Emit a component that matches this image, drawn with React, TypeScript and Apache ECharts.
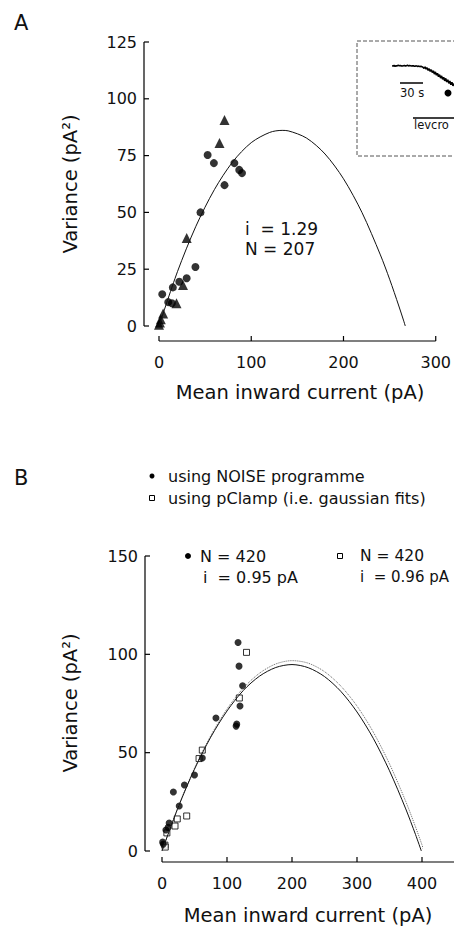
import React, { useEffect, useRef } from "react";
import * as echarts from "echarts";

const FONT = "DejaVu Sans, Liberation Sans, sans-serif";

// ---------- Panel A data ----------
const aCircles: [number, number][] = [
  [3.5, 14], [10, 10.5], [14, 10], [15, 17], [22, 19.5], [30, 21], [39.5, 26],
  [45, 50], [52.7, 75.3], [59.5, 71.7], [71, 62], [81.7, 71.7], [87, 68.7], [90, 67.3],
];
const aTriangles: [number, number][] = [
  [0, 0.5], [1, 1.5], [2, 3], [4.5, 5.5], [19, 10], [26, 18], [30, 38.7], [65.6, 80.5], [71, 90.7],
];
// fitted parabola (i = 1.29, N = 207)
const aCurveX = [0, 20, 40, 60, 80, 100, 120, 133.5, 140, 160, 180, 200, 220, 240, 250, 260, 265, 267];
const aCurveY = [0, 23.9, 43.9, 60.0, 72.3, 80.7, 85.2, 86.1, 85.9, 82.7, 75.7, 64.8, 50.0, 31.3, 20.6, 8.8, 2.6, 0];

// ---------- Panel B data ----------
const bCircles: [number, number][] = [
  [1, 4.5], [2, 3.5], [6, 10.7], [9.5, 12], [11, 14.2], [17.5, 30], [26.5, 22.9], [34.5, 33.6],
  [50, 38.6], [62, 47.3], [83, 67.6], [114, 63.5], [115, 64.5], [118.5, 94], [117, 106],
  [120, 73.7], [124, 84],
];
const bSquares: [number, number][] = [
  [4.5, 3], [5, 2], [7.5, 9.2], [20, 12.7], [23.5, 16.3], [38, 17.8], [57, 47], [62, 51.3],
  [119, 77.8], [130, 101],
];
// NOISE fit (i = 0.95, N = 420)
const bSolidX = [0, 25, 50, 75, 100, 125, 150, 175, 200, 225, 250, 275, 300, 325, 350, 375, 390, 399];
const bSolidY = [0, 22.3, 41.6, 57.9, 71.2, 81.6, 88.9, 93.3, 94.8, 93.2, 88.7, 81.2, 70.7, 57.3, 40.8, 21.4, 8.4, 0];
// pClamp fit (i = 0.96, N = 420)
const bDotX = [0, 25, 50, 75, 100, 125, 150, 175, 200, 225, 250, 275, 300, 325, 350, 375, 390, 400, 403];
const bDotY = [0, 22.5, 42.1, 58.6, 72.2, 82.8, 90.4, 95.1, 96.8, 95.5, 91.2, 83.9, 73.7, 60.5, 44.3, 25.2, 12.3, 3.1, 0.2];

// inset current trace (arbitrary units, sampled every 0.5 s)
const traceY = [
  0.2, 0, 0.3, -0.1, 0.2, 0.1, 0.4, 0.2, 0.3, 0.1, 0, 0.2, 0.3, 0.1, 0.2, 0.4, 0.1, 0.3, 0.2, 0,
  0.2, 0.1, -0.1, 0.1, 0, -0.2, 0, -0.3, -0.1, -0.4, -0.6,
  -1.2, -0.4, -1.6, -0.9, -2.3, -1.4, -2.8, -1.9, -3.4, -2.5, -4.2, -3.1, -4.8, -3.8, -5.6,
  -4.5, -6.3, -5.2, -7.0, -5.9, -7.8, -6.5, -8.4, -7.2, -9.1, -7.9, -9.8, -8.5, -10.4, -9.2,
];

const xTicksA = { min: 0, max: 300, interval: 100 };
const yTicksA = { min: 0, max: 125, interval: 25 };
const xTicksB = { min: 0, max: 400, interval: 100 };
const yTicksB = { min: 0, max: 150, interval: 50 };

type Range = { min: number; max: number; interval: number };

const zip = (xs: number[], ys: number[]) => xs.map((x, i) => [x, ys[i]]);

function axisCommon(labelMargin: number) {
  return {
    axisLine: { show: false, onZero: false },
    axisTick: { show: false },
    axisLabel: { color: "#111", fontSize: 16, fontFamily: FONT, margin: labelMargin },
    splitLine: { show: false },
  };
}

const txt = (x: number, y: number, text: string, fontSize: number, extra: any = {}) => ({
  type: "text",
  x,
  y,
  style: {
    text,
    fontSize,
    fontFamily: FONT,
    fill: "#111",
    textAlign: "left",
    textVerticalAlign: "middle",
    ...extra,
  },
});

// axis lines and inward ticks, placed through the chart's own scales
function axisGraphics(chart: any, xr: Range, yr: Range, xOff: number, yOff: number, xEnd?: number) {
  const px = (v: number) => chart.convertToPixel({ xAxisIndex: 0 }, v) as number;
  const py = (v: number) => chart.convertToPixel({ yAxisIndex: 0 }, v) as number;
  const stroke = { stroke: "#000", lineWidth: 1.2 };
  const yLine = py(yr.min) + xOff;
  const xLine = px(xr.min) - yOff;
  const els: any[] = [];
  const ln = (x1: number, y1: number, x2: number, y2: number) => ({
    type: "line",
    z: 100,
    shape: { x1, y1, x2, y2 },
    style: stroke,
  });
  els.push(ln(px(xr.min), yLine, xEnd !== undefined ? xEnd : px(xr.max), yLine));
  for (let v = xr.min; v <= xr.max + 1e-9; v += xr.interval) {
    els.push(ln(px(v), yLine, px(v), yLine - 5));
  }
  els.push(ln(xLine, py(yr.min), xLine, py(yr.max)));
  for (let v = yr.min; v <= yr.max + 1e-9; v += yr.interval) {
    els.push(ln(xLine, py(v), xLine + 5, py(v)));
  }
  return els;
}

function optionA(): any {
  return {
    animation: false,
    backgroundColor: "#fff",
    grid: [{ left: 159, top: 42, width: 279, height: 284 }],
    xAxis: [{ type: "value", gridIndex: 0, ...xTicksA, offset: 15, ...axisCommon(13) }],
    yAxis: [{ type: "value", gridIndex: 0, ...yTicksA, offset: 15, ...axisCommon(7) }],
    series: [
      {
        type: "line",
        data: zip(aCurveX, aCurveY),
        smooth: 0.3,
        showSymbol: false,
        lineStyle: { color: "#111", width: 1 },
      },
      { type: "scatter", data: aCircles, symbol: "circle", symbolSize: 8, itemStyle: { color: "#000" } },
      { type: "scatter", data: aTriangles, symbol: "triangle", symbolSize: 10, itemStyle: { color: "#000" } },
    ],
    graphic: [
      txt(14, 23, "A", 21),
      txt(300, 392, "Mean inward current (pA)", 19.5, { textAlign: "center" }),
      { ...txt(70, 184, "Variance (pA²)", 19.5, { textAlign: "center" }), rotation: Math.PI / 2 },
      txt(245, 229, "i  = 1.29", 17),
      txt(245, 249, "N = 207", 17),
      {
        type: "rect",
        shape: { x: 357, y: 41, width: 110, height: 115 },
        style: { fill: "none", stroke: "#555", lineWidth: 1, lineDash: [4, 2] },
      },
      { type: "line", shape: { x1: 400, y1: 83, x2: 423, y2: 83 }, style: { stroke: "#000", lineWidth: 1.5 } },
      txt(400, 93, "30 s", 11.5),
      { type: "circle", shape: { cx: 448, cy: 93, r: 3.5 }, style: { fill: "#000" } },
      { type: "line", shape: { x1: 413, y1: 118, x2: 454, y2: 118 }, style: { stroke: "#000", lineWidth: 1.5 } },
      txt(414, 125, "levcro", 11.5),
    ],
  };
}

function optionB(): any {
  return {
    animation: false,
    backgroundColor: "#fff",
    grid: [{ left: 162, top: 136, width: 260, height: 295 }],
    xAxis: [{ type: "value", gridIndex: 0, ...xTicksB, offset: 11, ...axisCommon(13) }],
    yAxis: [{ type: "value", gridIndex: 0, ...yTicksB, offset: 17, ...axisCommon(7) }],
    series: [
      {
        type: "line",
        data: zip(bDotX, bDotY),
        smooth: 0.3,
        showSymbol: false,
        lineStyle: { color: "#666", width: 1, type: "dotted" },
      },
      {
        type: "line",
        data: zip(bSolidX, bSolidY),
        smooth: 0.3,
        showSymbol: false,
        lineStyle: { color: "#111", width: 1 },
      },
      {
        type: "scatter",
        data: bSquares,
        symbol: "rect",
        symbolSize: 6,
        itemStyle: { color: "#fff", borderColor: "#000", borderWidth: 1 },
      },
      { type: "scatter", data: bCircles, symbol: "circle", symbolSize: 7, itemStyle: { color: "#000" } },
    ],
    graphic: [
      txt(14, 58, "B", 21),
      txt(308, 495, "Mean inward current (pA)", 19.5, { textAlign: "center" }),
      { ...txt(70, 283, "Variance (pA²)", 19.5, { textAlign: "center" }), rotation: Math.PI / 2 },
      { type: "circle", shape: { cx: 152, cy: 56, r: 2.5 }, style: { fill: "#000" } },
      txt(168, 56, "using NOISE programme", 16),
      {
        type: "rect",
        shape: { x: 149.5, y: 75.5, width: 5, height: 5 },
        style: { fill: "#fff", stroke: "#000", lineWidth: 1 },
      },
      txt(168, 78, "using pClamp (i.e. gaussian fits)", 16),
      { type: "circle", shape: { cx: 188, cy: 136, r: 3 }, style: { fill: "#000" } },
      txt(200, 136, "N = 420", 16),
      txt(203, 157, "i  = 0.95 pA", 16),
      {
        type: "rect",
        shape: { x: 337.5, y: 133.5, width: 5, height: 5 },
        style: { fill: "#fff", stroke: "#000", lineWidth: 1 },
      },
      txt(360, 136, "N = 420", 15.5),
      txt(360, 157, "i  = 0.96 pA", 15),
    ],
  };
}

function optionTrace(): any {
  return {
    animation: false,
    grid: [{ left: 0, top: 5, width: 62, height: 30 }],
    xAxis: [{ type: "value", min: 0, max: 30, show: false }],
    yAxis: [{ type: "value", min: -12.6, max: 3.2, show: false }],
    series: [
      {
        type: "line",
        data: traceY.map((v, i) => [i * 0.5, v]),
        showSymbol: false,
        lineStyle: { color: "#000", width: 1.6 },
      },
    ],
  };
}

type AxisSpec = { xr: Range; yr: Range; xOff: number; yOff: number; xEnd?: number };

function EChart({ option, axes, style }: { option: () => any; axes?: AxisSpec; style: React.CSSProperties }) {
  const ref = useRef<HTMLDivElement>(null);
  useEffect(() => {
    if (!ref.current) return;
    const chart = echarts.init(ref.current, undefined, { renderer: "svg" });
    const opt = option();
    chart.setOption(opt);
    if (axes) {
      try {
        const extra = axisGraphics(chart, axes.xr, axes.yr, axes.xOff, axes.yOff, axes.xEnd);
        chart.setOption({ graphic: [...(opt.graphic || []), ...extra] });
      } catch (e) {
        // keep the chart as drawn
      }
    }
    return () => chart.dispose();
  }, []);
  return <div ref={ref} style={{ position: "absolute", ...style }} />;
}

export default function App() {
  return (
    <div style={{ position: "absolute", left: 0, top: 0, width: 454, height: 927, background: "#fff" }}>
      <EChart
        option={optionA}
        axes={{ xr: xTicksA, yr: yTicksA, xOff: 15, yOff: 15 }}
        style={{ left: 0, top: 0, width: 454, height: 420 }}
      />
      <EChart
        option={optionB}
        axes={{ xr: xTicksB, yr: yTicksB, xOff: 11, yOff: 17, xEnd: 454 }}
        style={{ left: 0, top: 420, width: 454, height: 507 }}
      />
      <EChart option={optionTrace} style={{ left: 392, top: 55, width: 62, height: 40, zIndex: 2 }} />
    </div>
  );
}
